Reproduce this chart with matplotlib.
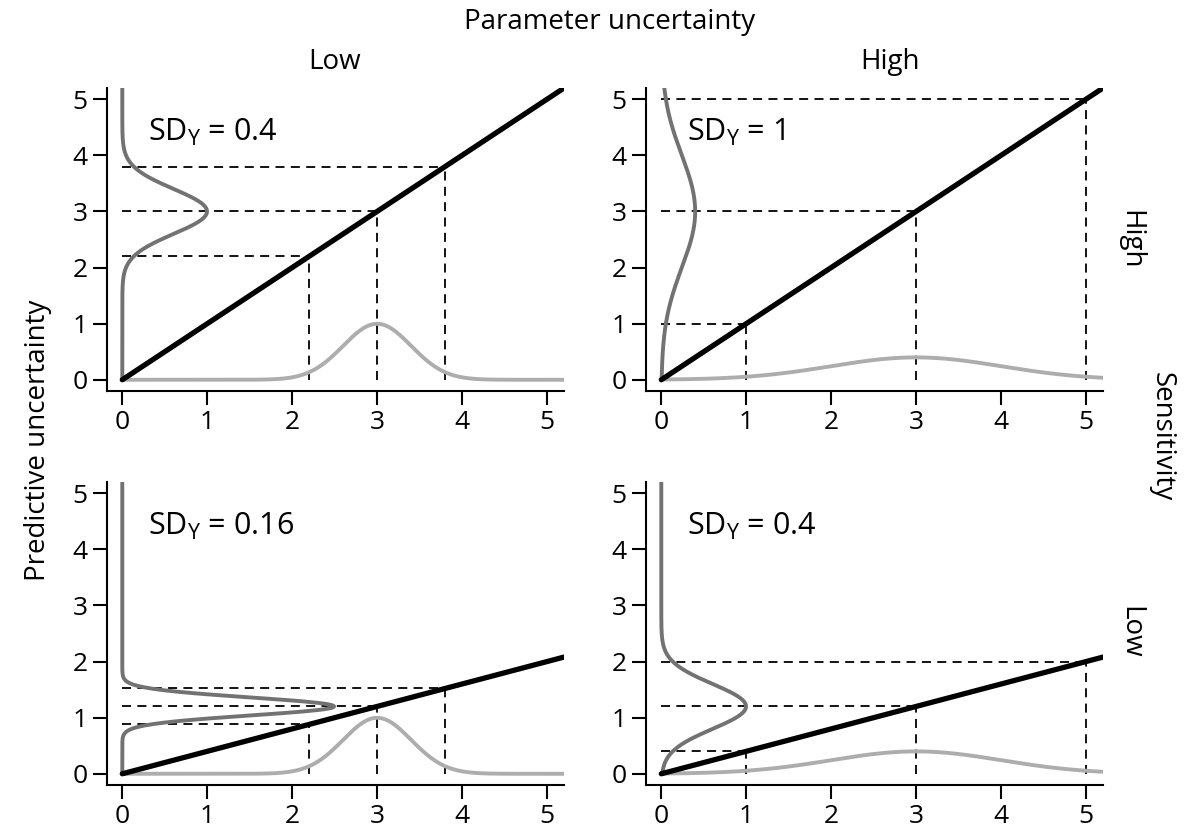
import numpy as np
import matplotlib
matplotlib.use("Agg")
import matplotlib.pyplot as plt

plt.rcParams['font.family'] = ['Open Sans', 'DejaVu Sans']
plt.rcParams['mathtext.fontset'] = 'custom'
plt.rcParams['mathtext.rm'] = 'Open Sans'
plt.rcParams['mathtext.it'] = 'Open Sans:italic'

# panel parameters (rows: sensitivity high/low, cols: parameter uncertainty low/high)
slopes = [1.0, 1.0, 0.4, 0.4]
sd_x = [0.4, 1.0, 0.4, 1.0]
mean_x = 3.0
sd_y_labels = ["0.4", "1", "0.16", "0.4"]
ticks = [0, 1, 2, 3, 4, 5]
x_max = 5.2

col_labels = ["Low", "High"]
row_labels = ["High", "Low"]

dark_gray = "#727272"
light_gray = "#adadad"


def normal_pdf(v, m, s):
    return np.exp(-0.5 * ((v - m) / s) ** 2) / (s * np.sqrt(2 * np.pi))


fig = plt.figure(figsize=(11.89, 8.33), dpi=100)

W, H = 1189, 833
lefts = [107, 646]
tops = [88, 482]
aw, ah = 457, 303

axes = []
for r in range(2):
    for c in range(2):
        ax = fig.add_axes([lefts[c] / W, 1 - (tops[r] + ah) / H, aw / W, ah / H])
        axes.append(ax)

grid = np.linspace(0, x_max, 400)

for i, ax in enumerate(axes):
    b = slopes[i]
    s = sd_x[i]
    my = b * mean_x
    sy = b * s

    # dashed guides at mean and +/- 2 SD
    for xv in [mean_x - 2 * s, mean_x, mean_x + 2 * s]:
        yv = b * xv
        ax.plot([0, xv], [yv, yv], color="black", lw=1.3, ls=(0, (5, 3.5)), zorder=2)
        ax.plot([xv, xv], [0, yv], color="black", lw=1.3, ls=(0, (5, 3.5)), zorder=2)

    # densities
    ax.plot(grid, normal_pdf(grid, mean_x, s), color=light_gray, lw=2.8,
            solid_capstyle="round", zorder=3)
    ax.plot(normal_pdf(grid, my, sy), grid, color=dark_gray, lw=2.8,
            solid_capstyle="round", zorder=3)

    # linear response
    ax.plot([0, x_max], [0, b * x_max], color="black", lw=3.8,
            solid_capstyle="round", zorder=4)

    ax.text(0.3, 4.4, r"SD$_\mathrm{Y}$ = " + sd_y_labels[i], fontsize=22,
            va="center", ha="left")

    ax.set_xlim(-0.18, x_max)
    ax.set_ylim(-0.2, x_max)
    ax.set_xticks(ticks)
    ax.set_yticks(ticks)
    ax.spines["top"].set_visible(False)
    ax.spines["right"].set_visible(False)
    for sp in ["left", "bottom"]:
        ax.spines[sp].set_linewidth(1.5)
    ax.tick_params(length=10, width=1.5, labelsize=19, pad=4)

# headers
fig.text(610 / W, 1 - 22 / H, "Parameter uncertainty", ha="center", va="center", fontsize=20)
fig.text(335 / W, 1 - 62 / H, col_labels[0], ha="center", va="center", fontsize=20)
fig.text(890 / W, 1 - 62 / H, col_labels[1], ha="center", va="center", fontsize=20)
fig.text(1130 / W, 1 - 240 / H, row_labels[0], rotation=-90, ha="center", va="center", fontsize=20)
fig.text(1130 / W, 1 - 632 / H, row_labels[1], rotation=-90, ha="center", va="center", fontsize=20)
fig.text(1162 / W, 1 - 437 / H, "Sensitivity", rotation=-90, ha="center", va="center", fontsize=20)
fig.text(38 / W, 1 - 440 / H, "Predictive uncertainty", rotation=90, ha="center", va="center", fontsize=20)

fig.savefig("out.png", dpi=100)
